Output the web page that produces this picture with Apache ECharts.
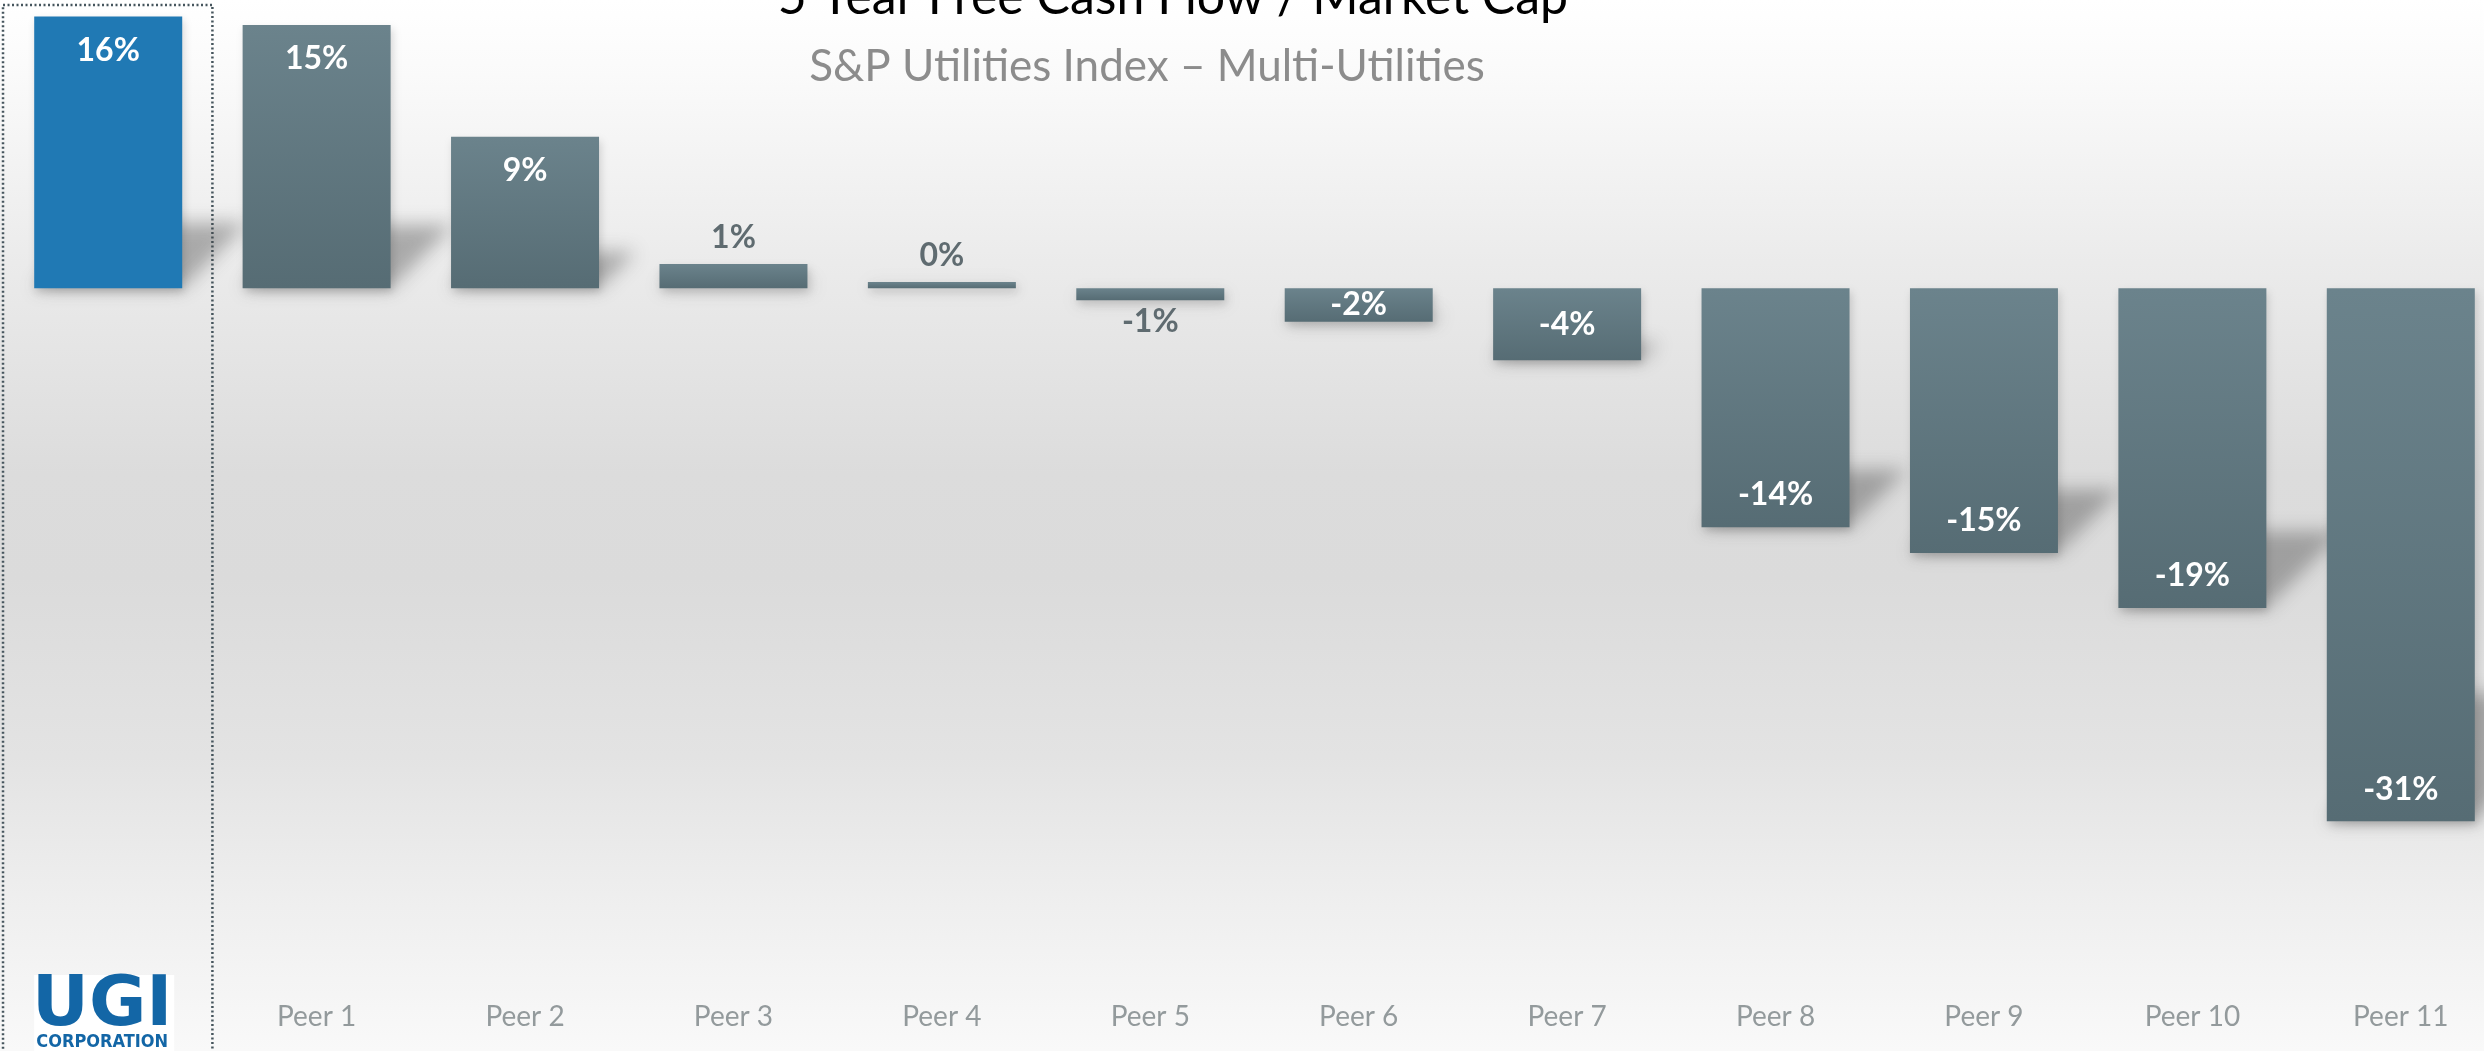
<!DOCTYPE html>
<html>
<head>
<meta charset="utf-8">
<script src="https://cdn.jsdelivr.net/npm/echarts@6/dist/echarts.min.js"></script>
<style>
  html, body { margin: 0; padding: 0; background: #fff; }
  #chart { width: 2484px; height: 1051px; }
</style>
</head>
<body>
<div id="chart"></div>
<script>
  // data
  const categories = ['UGI', 'Peer 1', 'Peer 2', 'Peer 3', 'Peer 4', 'Peer 5', 'Peer 6', 'Peer 7', 'Peer 8', 'Peer 9', 'Peer 10', 'Peer 11']
  const values = [15.8, 15.3, 8.8, 1.4, 0.35, -0.7, -1.95, -4.2, -13.9, -15.4, -18.6, -31.0]
  const titleText = '5 Year Free Cash Flow / Market Cap'
  const subtitleText = 'S&P Utilities Index – Multi-Utilities'

  const chart = echarts.init(document.getElementById('chart'))
  const barRatio = 148 / 208.4
  const OFF = 6000

  const greyBar = new echarts.graphic.LinearGradient(0, 0, 0, 1, [
    { offset: 0, color: '#6b838c' },
    { offset: 1, color: '#566c74' }
  ])

  function labelFor(v) {
    const a = Math.abs(v)
    if (a < 1.5) {
      return { position: v > 0 ? 'top' : 'bottom', distance: v > 0 ? 10 : 6, color: '#5f6b70' }
    }
    if (a < 5) {
      return { position: 'inside', color: '#fff' }
    }
    return v > 0
      ? { position: 'insideTop', distance: 18, color: '#fff' }
      : { position: 'insideBottom', distance: 16, color: '#fff' }
  }

  const barData = values.map((v, i) => ({
    value: v,
    itemStyle: { color: i === 0 ? '#2079b4' : greyBar },
    label: labelFor(v)
  }))

  chart.setOption({
    backgroundColor: new echarts.graphic.LinearGradient(0, 0, 0, 1, [
      { offset: 0, color: '#ffffff' },
      { offset: 0.06, color: '#fbfbfb' },
      { offset: 0.25, color: '#ebebeb' },
      { offset: 0.45, color: '#dcdcdc' },
      { offset: 0.55, color: '#dbdbdb' },
      { offset: 0.72, color: '#e3e3e3' },
      { offset: 0.85, color: '#eeeeee' },
      { offset: 1, color: '#f9f9f9' }
    ]),
    animation: false,
    title: [
      {
        text: titleText,
        left: 1168,
        top: -32,
        textAlign: 'center',
        textStyle: { fontFamily: 'Lato', fontSize: 50, fontWeight: 'normal', color: '#000' }
      },
      {
        text: subtitleText,
        left: 1142,
        top: 40,
        textAlign: 'center',
        textStyle: { fontFamily: 'Lato', fontSize: 44, fontWeight: 'normal', color: '#8c8c8c' }
      }
    ],
    grid: { left: 4, top: 13, width: 2501, height: 963, containLabel: false, outerBoundsMode: 'none' },
    xAxis: {
      type: 'category',
      data: categories,
      axisLine: { show: false },
      axisTick: { show: false },
      axisLabel: {
        margin: 27,
        fontFamily: 'Lato',
        fontSize: 28,
        color: '#939a9c',
        formatter: (v, i) => (i === 0 ? '' : v)
      }
    },
    yAxis: {
      type: 'value',
      min: -40,
      max: 16,
      show: false,
      splitLine: { show: false }
    },
    series: [
      {
        type: 'custom',
        z: 1,
        silent: true,
        data: values.map((v, i) => [i, v]),
        encode: { x: 0, y: 1 },
        renderItem: (params, api) => {
          const i = api.value(0)
          const v = api.value(1)
          const p0 = api.coord([i, 0])
          const p1 = api.coord([i, v])
          const half = api.size([1, 0])[0] * barRatio / 2
          const yb = Math.max(p0[1], p1[1])
          const d = Math.abs(p1[1] - p0[1]) * 0.24
          const L = p0[0] - half
          const R = p0[0] + half
          return {
            type: 'polygon',
            x: -OFF,
            shape: { points: [[L, yb], [R, yb], [R + d, yb - d], [L + d, yb - d]] },
            style: {
              fill: '#000',
              shadowBlur: 18,
              shadowColor: 'rgba(70,70,70,0.4)',
              shadowOffsetX: OFF
            }
          }
        }
      },
      {
        type: 'bar',
        z: 2,
        barWidth: 148,
        data: barData,
        itemStyle: {
          shadowBlur: 8,
          shadowColor: 'rgba(0,0,0,0.15)',
          shadowOffsetY: 4,
          shadowOffsetX: 2
        },
        label: {
          show: true,
          fontFamily: 'Lato',
          fontWeight: 'bold',
          fontSize: 32,
          formatter: (p) => Math.round(p.value) + '%'
        }
      }
    ]
  })

  // UGI logo under the first bar and the dotted box round that category
  const cx = chart.convertToPixel({ xAxisIndex: 0 }, categories[0])
  const band = 208.4
  chart.setOption({
    graphic: [
      {
        type: 'rect',
        silent: true,
        shape: { x: cx - band / 2 - 1, y: 5, width: band + 1, height: 1100 },
        style: { fill: 'none', stroke: '#46555d', lineWidth: 2.5, lineDash: [2, 2.5] }
      },
      {
        type: 'rect',
        silent: true,
        shape: { x: cx - 74, y: 975, width: 140, height: 80 },
        style: { fill: '#fff' }
      },
      {
        type: 'text',
        silent: true,
        x: cx - 6,
        y: 1007,
        style: {
          text: 'UGI',
          fontFamily: 'DejaVu Sans',
          fontWeight: 'bold',
          fontSize: 70,
          fill: '#1366a6',
          align: 'center',
          verticalAlign: 'middle'
        }
      },
      {
        type: 'text',
        silent: true,
        x: cx - 6,
        y: 1042,
        style: {
          text: 'CORPORATION',
          fontFamily: 'DejaVu Sans Condensed',
          fontWeight: 'bold',
          fontSize: 18,
          fill: '#1366a6',
          align: 'center',
          verticalAlign: 'middle'
        }
      }
    ]
  })
</script>
</body>
</html>
